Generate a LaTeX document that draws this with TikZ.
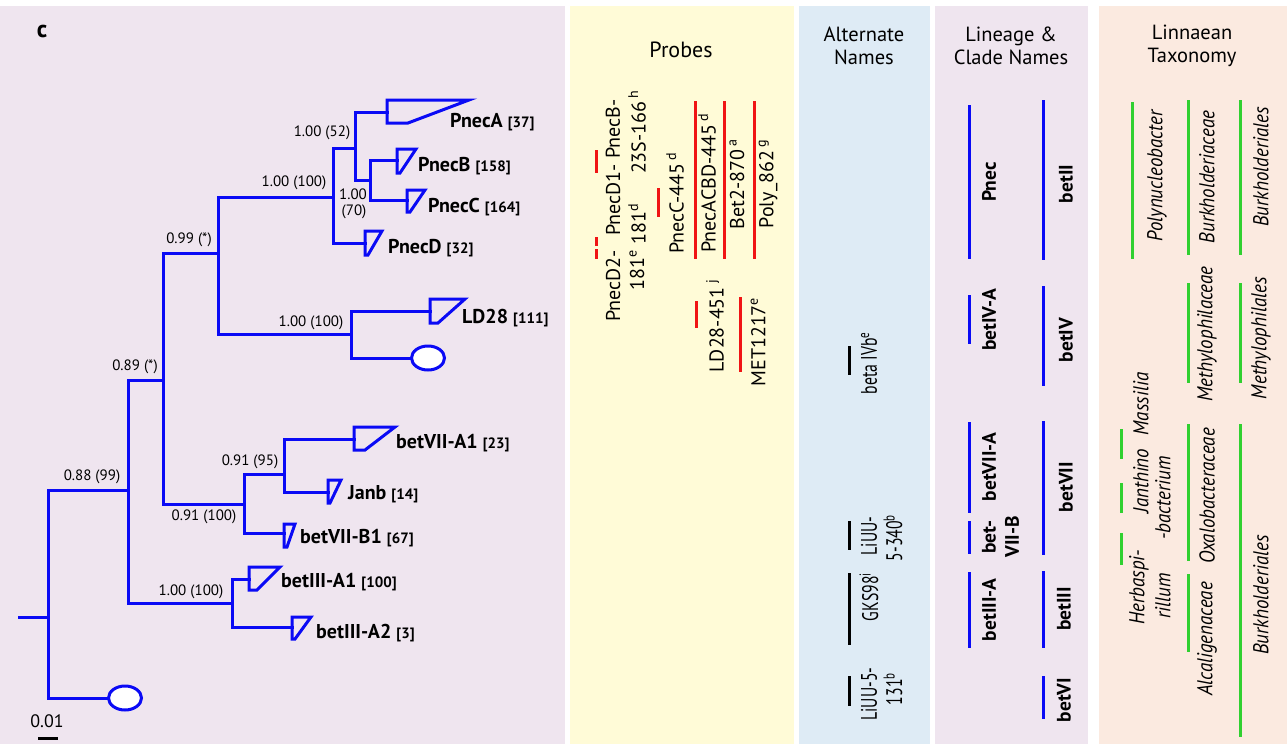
\documentclass[tikz,border=0pt]{standalone}
\usepackage{fontspec}
\setmainfont{PT Sans}
\newfontfamily\condfont[FakeStretch=0.7]{PT Sans}
\newfontfamily\taxfont[FakeStretch=0.88]{PT Sans Italic}
\usetikzlibrary{shapes.geometric}
\definecolor{lav}{HTML}{EFE5EF}
\definecolor{probebg}{HTML}{FFFBD7}
\definecolor{altbg}{HTML}{DEEBF5}
\definecolor{taxbg}{HTML}{FBEAE0}
\definecolor{treeblue}{RGB}{10,10,245}
\definecolor{probered}{HTML}{F01414}
\definecolor{taxgreen}{HTML}{30D030}
\newcommand\cladecount[1]{{\fontsize{15}{17}\selectfont #1}}
\tikzset{
  panel/.style={fill=#1, draw=none},
  br/.style={draw=treeblue, line width=3pt, line join=miter, line cap=rect},
  clade/.style={draw=treeblue, line width=3pt, line join=miter},
  tipell/.style={ellipse, draw=treeblue, fill=white, line width=3pt, minimum width=33pt, minimum height=24pt, inner sep=0pt},
  blab/.style={inner sep=0pt, font=\fontsize{15}{18}\selectfont},
  tiplab/.style={anchor=west, inner sep=0pt, font=\fontsize{20}{23}\selectfont\bfseries},
  head/.style={align=center, inner sep=0pt, font=\fontsize{20.5}{23}\selectfont},
  probe/.style={rotate=90, inner sep=0pt, font=\fontsize{20}{24}\selectfont},
  alt/.style={rotate=90, inner sep=0pt, font=\condfont\fontsize{22.5}{25}\selectfont},
  lin/.style={rotate=90, inner sep=0pt, font=\fontsize{19.5}{22}\selectfont\bfseries},
  tax/.style={rotate=90, inner sep=0pt, font=\taxfont\fontsize{21.5}{24}\selectfont},
  redbar/.style={draw=probered, line width=3pt},
  blackbar/.style={draw=black, line width=3pt},
  bluebar/.style={draw=treeblue, line width=3pt},
  greenbar/.style={draw=taxgreen, line width=3pt},
}
\begin{document}
\begin{tikzpicture}[x=1pt,y=-1pt]
\useasboundingbox (0,0) rectangle (1287,744);
\fill[white] (0,0) rectangle (1287,744);
% panels
\fill[panel=lav] (0,6) rectangle (565,744);
\fill[panel=probebg] (570,6) rectangle (794,744);
\fill[panel=altbg] (799,6) rectangle (930,744);
\fill[panel=lav] (935,6) rectangle (1088,744);
\fill[panel=taxbg] (1099,6) rectangle (1287,744);

\node[inner sep=0pt, font=\fontsize{24}{26}\selectfont\bfseries] (plabel) at (42,31) {c};

% ---------------- tree ----------------
\coordinate (stub) at (19,617);
\coordinate (root) at (48,617);
\coordinate (n088) at (128,490);
\coordinate (n089) at (163,380);
\coordinate (n099) at (218,253);
\coordinate (n100a) at (333,197);
\coordinate (n052) at (355,148);
\coordinate (n070) at (370,180);
\coordinate (nLD) at (351,334);
\coordinate (n091) at (244,504);
\coordinate (n095) at (284,474);
\coordinate (nIII) at (232,603);
\coordinate (tA) at (387,112);
\coordinate (tB) at (397,160);
\coordinate (tC) at (407,200);
\coordinate (tD) at (365,243);
\coordinate (tLD) at (430,311);
\coordinate (tVA) at (354,439);
\coordinate (tJ) at (328,492);
\coordinate (tVB) at (284,533);
\coordinate (tIIIa) at (249,579);
\coordinate (tIIIb) at (292,627);

\draw[br] (stub) -- (root);
\draw[br] (root) |- (n088);
\draw[br] (n088) |- (n089);
\draw[br] (n088) |- (nIII);
\draw[br] (n089) |- (n099);
\draw[br] (n089) |- (n091);
\draw[br] (n099) |- (n100a);
\draw[br] (n099) |- (nLD);
\draw[br] (n100a) |- (n052);
\draw[br] (n100a) |- (tD);
\draw[br] (n052) |- (tA);
\draw[br] (n052) |- (n070);
\draw[br] (n070) |- (tB);
\draw[br] (n070) |- (tC);
\draw[br] (nLD) |- (tLD);
\draw[br] (n091) |- (n095);
\draw[br] (n091) |- (tVB);
\draw[br] (n095) |- (tVA);
\draw[br] (n095) |- (tJ);
\draw[br] (nIII) |- (tIIIa);
\draw[br] (nIII) |- (tIIIb);

\node[tipell] (eLD) at (428,358) {};
\node[tipell] (eb) at (125,698) {};
\draw[br] (nLD) |- (eLD.west);
\draw[br] (root) |- (eb.west);

% collapsed clades
\draw[clade] (387,100) -- (469,100) -- (408,123) -- (387,123) -- cycle;
\draw[clade] (397,149) -- (416,149) -- (400,173) -- (397,173) -- cycle;
\draw[clade] (407,190) -- (425,190) -- (410,212) -- (407,212) -- cycle;
\draw[clade] (365,231) -- (382,231) -- (368,255) -- (365,255) -- cycle;
\draw[clade] (430,299) -- (465,299) -- (438,323) -- (430,323) -- cycle;
\draw[clade] (354,427) -- (395,427) -- (365,450) -- (354,450) -- cycle;
\draw[clade] (328,480) -- (341,480) -- (330,503) -- (328,503) -- cycle;
\draw[clade] (284,524) -- (295,524) -- (287,547) -- (284,547) -- cycle;
\draw[clade] (249,567) -- (280,567) -- (257,590) -- (249,590) -- cycle;
\draw[clade] (292,617) -- (311,617) -- (295,639) -- (292,639) -- cycle;

% tip labels
\node[tiplab] (lA) at (450,122) {PnecA \cladecount{[37]}};
\node[tiplab] (lB) at (418,166) {PnecB \cladecount{[158]}};
\node[tiplab] (lC) at (428,207) {PnecC \cladecount{[164]}};
\node[tiplab] (lD) at (388,248) {PnecD \cladecount{[32]}};
\node[tiplab] (lLD) at (462,318) {LD28 \cladecount{[111]}};
\node[tiplab] (lVA) at (396,443) {betVII-A1 \cladecount{[23]}};
\node[tiplab] (lJ) at (348,494) {Janb \cladecount{[14]}};
\node[tiplab] (lVB) at (300,538) {betVII-B1 \cladecount{[67]}};
\node[tiplab] (lIIIa) at (281,582) {betIII-A1 \cladecount{[100]}};
\node[tiplab] (lIIIb) at (316,633) {betIII-A2 \cladecount{[3]}};

% branch support labels
\node[blab] (s052) at (322,133) {1.00 (52)};
\node[blab] (s100a) at (294,183) {1.00 (100)};
\node[blab] (s070a) at (353,194) {1.00};
\node[blab] (s070b) at (354,212) {(70)};
\node[blab] (s099) at (189,240) {0.99 (*)};
\node[blab] (sLD) at (311,323) {1.00 (100)};
\node[blab] (s089) at (135,367) {0.89 (*)};
\node[blab] (s088) at (92,477) {0.88 (99)};
\node[blab] (s095) at (250,462) {0.91 (95)};
\node[blab] (s091) at (204,517) {0.91 (100)};
\node[blab] (sIII) at (191,592) {1.00 (100)};

% scale bar
\node[inner sep=0pt, font=\fontsize{18}{20}\selectfont] (scl) at (47,721) {0.01};
\coordinate (sb1) at (38,738);
\coordinate (sb2) at (58,738);
\draw[black, line width=3pt] (sb1) -- (sb2);

% ---------------- headers ----------------
\node[head] (hprobe) at (681,50) {\fontsize{22}{24}\selectfont Probes};
\node[head] (halt) at (864,46) {Alternate\\Names};
\node[head] (hlin) at (1011,46) {Lineage \&\\Clade Names};
\node[head] (htax) at (1192,46) {Linnaean\\Taxonomy};

% ---------------- probes ----------------
\draw[redbar] (596,150) -- (596,173);
\draw[redbar] (596,237) -- (596,246);
\draw[redbar] (596,249) -- (596,259);
\draw[redbar] (658,188) -- (658,217);
\draw[redbar] (695,101) -- (695,259);
\draw[redbar] (724,101) -- (724,259);
\draw[redbar] (754,101) -- (754,259);
\draw[redbar] (696,301) -- (696,328);
\draw[redbar] (740,297) -- (740,372);

\node[probe] (pB1) at (613,129) {PnecB-};
\node[probe] (pB2) at (637,132) {23S-166\,\textsuperscript{h}};
\node[probe] (pD11) at (613,200) {PnecD1-};
\node[probe] (pD12) at (637,224) {181\textsuperscript{d}};
\node[probe] (pD21) at (613,286) {PnecD2-};
\node[probe] (pD22) at (637,270) {181\textsuperscript{e}};
\node[probe] (pC) at (675,203) {PnecC-445\,\textsuperscript{d}};
\node[probe] (pACBD) at (707,183) {PnecACBD-445\,\textsuperscript{d}};
\node[probe] (pBet) at (737,184) {Bet2-870\,\textsuperscript{a}};
\node[probe] (pPoly) at (768,184) {Poly\_862\,\textsuperscript{g}};
\node[probe] (pLD) at (715,326) {LD28-451\,\textsuperscript{j}};
\node[probe] (pMET) at (758,342) {MET1217\textsuperscript{e}};

% ---------------- alternate names ----------------
\draw[blackbar] (849,346) -- (849,375);
\draw[blackbar] (849,521) -- (849,550);
\draw[blackbar] (849,573) -- (849,645);
\draw[blackbar] (849,676) -- (849,706);
\node[alt] (a1) at (869,363) {beta IVb\textsuperscript{e}};
\node[alt] (a2a) at (869,536) {LiUU-};
\node[alt] (a2b) at (893,538) {5-340\textsuperscript{b}};
\node[alt] (a3) at (869,597) {GKS98\textsuperscript{i}};
\node[alt] (a4a) at (869,694) {LiUU-5-};
\node[alt] (a4b) at (893,689) {131\textsuperscript{b}};

% ---------------- lineage & clade names ----------------
\draw[bluebar] (969,105) -- (969,259);
\draw[bluebar] (1043,100) -- (1043,260);
\draw[bluebar] (969,295) -- (969,344);
\draw[bluebar] (1043,286) -- (1043,386);
\draw[bluebar] (969,422) -- (969,513);
\draw[bluebar] (969,521) -- (969,554);
\draw[bluebar] (1043,421) -- (1043,555);
\draw[bluebar] (969,572) -- (969,648);
\draw[bluebar] (1043,571) -- (1043,648);
\draw[bluebar] (1043,676) -- (1043,719);
\node[lin] (c1) at (989,182) {Pnec};
\node[lin] (c2) at (1066,184) {betII};
\node[lin] (c3) at (989,320) {betIV-A};
\node[lin] (c4) at (1066,340) {betIV};
\node[lin] (c5) at (989,467) {betVII-A};
\node[lin] (c6a) at (989,537) {bet-};
\node[lin] (c6b) at (1012,537) {VII-B};
\node[lin] (c7) at (1066,487) {betVII};
\node[lin] (c8) at (989,610) {betIII-A};
\node[lin] (c9) at (1064,609) {betIII};
\node[lin] (c10) at (1064,700) {betVI};

% ---------------- Linnaean taxonomy ----------------
\draw[greenbar] (1132,102) -- (1132,259);
\draw[greenbar] (1188,100) -- (1188,255);
\draw[greenbar] (1240,100) -- (1240,255);
\draw[greenbar] (1188,283) -- (1188,383);
\draw[greenbar] (1240,283) -- (1240,383);
\draw[greenbar] (1121,429) -- (1121,459);
\draw[greenbar] (1121,483) -- (1121,513);
\draw[greenbar] (1121,533) -- (1121,565);
\draw[greenbar] (1188,424) -- (1188,561);
\draw[greenbar] (1188,574) -- (1188,652);
\draw[greenbar] (1240,424) -- (1240,737);
\node[tax] (t1) at (1157,176) {Polynucleobacter};
\node[tax] (t2) at (1207,177) {Burkholderiaceae};
\node[tax] (t3) at (1261,167) {Burkholderiales};
\node[tax] (t4) at (1207,334) {Methylophilaceae};
\node[tax] (t5) at (1261,338) {Methylophilales};
\node[tax] (t6) at (1141,404) {Massilia};
\node[tax] (t7a) at (1141,481) {Janthino};
\node[tax] (t7b) at (1163,498) {-bacterium};
\node[tax] (t8a) at (1139,587) {Herbaspi-};
\node[tax] (t8b) at (1163,596) {rillum};
\node[tax] (t9) at (1207,496) {Oxalobacteraceae};
\node[tax] (t10) at (1207,639) {Alcaligenaceae};
\node[tax] (t11) at (1261,595) {Burkholderiales};
\end{tikzpicture}
\end{document}
